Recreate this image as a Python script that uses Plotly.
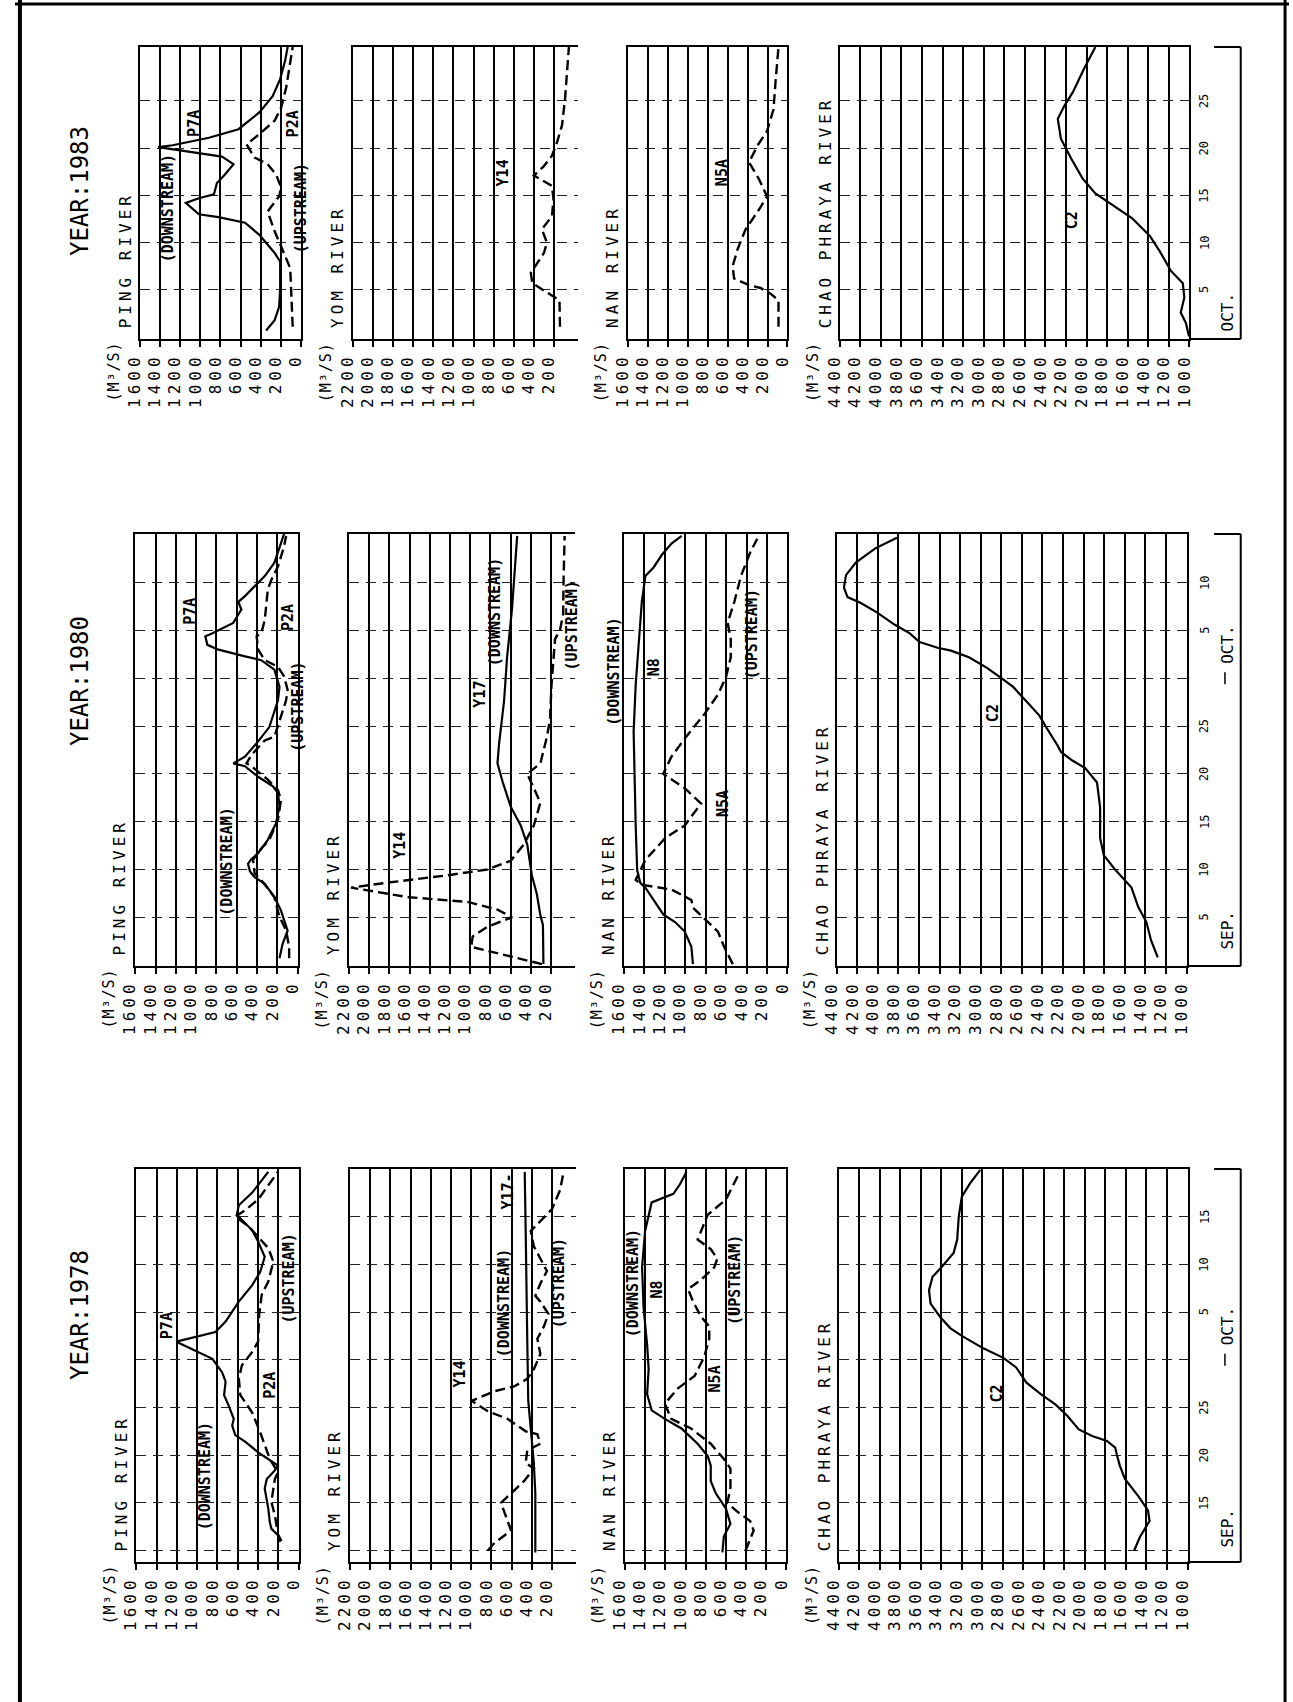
import plotly.graph_objects as go

W, H = 1293, 1702
FONT = "DejaVu Sans Mono"

# ---------------- DATA (day: 0 = 31 Aug, 30 = 30 Sep, 35 = 5 Oct) ----------------
YEARS = ["1983", "1980", "1978"]
RIVERS = ["PING RIVER", "YOM RIVER", "NAN RIVER", "CHAO PHRAYA RIVER"]

# ---- 1983 ----
P7A_1983_DAY = [30.7, 31.8, 33.2, 35.1, 38.0, 38.9, 40.8, 42.1, 42.7, 43.0, 44.2, 44.7, 45.1, 46.3, 47.2, 48.3,
                49.1, 49.9, 50.1, 50.3, 51.1, 52.0, 53.8, 55.5, 57.3, 59.3, 60.7]
P7A_1983_Q = [345, 260, 215, 205, 205, 260, 410, 555, 820, 1015, 1145, 1015, 865, 835, 755, 670,
              785, 1310, 1420, 1275, 915, 620, 410, 280, 205, 155, 130]
P2A_1983_DAY = [31.1, 33.7, 37.3, 39.2, 41.2, 43.3, 44.9, 45.8, 47.2, 48.3, 49.0, 50.4, 51.5, 52.9, 54.3, 56.4,
                58.9, 60.7]
P2A_1983_Q = [80, 90, 105, 180, 260, 330, 215, 195, 245, 330, 460, 540, 410, 260, 195, 145, 105, 80]
Y14_1983_DAY = [31.1, 33.9, 34.3, 35.7, 36.8, 38.9, 40.0, 41.4, 42.8, 44.6, 46.0, 47.1, 48.1, 49.2, 50.6, 52.4,
                55.2, 58.8, 60.9]
Y14_1983_Q = [140, 145, 205, 415, 430, 300, 270, 320, 220, 205, 220, 400, 300, 220, 170, 120, 90, 65, 50]
N5A_1983_DAY = [31.1, 33.9, 34.6, 35.2, 35.5, 36.2, 37.5, 39.3, 41.4, 43.5, 44.9, 46.7, 48.5, 50.2, 51.8, 54.1,
                57.0, 60.7]
N5A_1983_Q = [90, 90, 170, 270, 385, 535, 550, 500, 420, 285, 205, 285, 385, 305, 205, 140, 120, 90]
C2_1983_DAY = [30.1, 31.5, 32.6, 34.2, 35.7, 37.0, 39.1, 40.7, 42.6, 44.0, 45.2, 46.8, 48.9, 51.0, 53.1, 54.5,
               55.9, 58.4, 60.7]
C2_1983_Q = [1005, 1035, 1085, 1050, 1065, 1180, 1290, 1385, 1560, 1755, 1915, 2040, 2150, 2250, 2280, 2215,
             2135, 2025, 1915]

# ---- 1980 ----
P7A_1980_DAY = [0.7, 2.2, 3.6, 5.7, 7.1, 8.5, 9.2, 9.8, 10.6, 11.1, 11.7, 13.1, 14.8, 16.6, 18.0, 18.7, 19.7,
                20.8, 21.1, 21.8, 23.4, 24.9, 27.7, 29.1, 30.9, 31.9, 32.3, 33.0, 33.5, 34.4, 34.7, 35.8, 37.2,
                38.0, 38.6, 40.7, 42.1, 44.2, 45.1]
P7A_1980_Q = [180, 150, 100, 165, 230, 325, 425, 470, 490, 455, 390, 295, 215, 180, 195, 245, 390,
              520, 635, 520, 390, 280, 195, 180, 230, 360, 520, 780, 890, 910, 845, 635, 555,
              585, 520, 325, 230, 165, 135]
P2A_1980_DAY = [0.7, 1.9, 3.6, 5.2, 7.1, 8.9, 9.6, 11.0, 12.0, 13.1, 15.2, 17.3, 18.3, 19.4, 20.8, 21.1, 22.0,
                23.5, 23.9, 26.0, 27.7, 28.8, 30.2, 31.2, 31.9, 33.0, 34.4, 34.7, 36.1, 39.3, 40.3, 41.7,
                43.8, 44.9]
P2A_1980_Q = [85, 85, 115, 185, 230, 360, 425, 440, 375, 280, 195, 165, 195, 295, 455, 505, 455,
              325, 230, 165, 115, 100, 135, 195, 325, 390, 405, 360, 325, 295, 260, 195,
              135, 115]
Y17_1980_DAY = [0.1, 4.2, 5.2, 7.4, 9.4, 12.6, 14.6, 16.6, 19.2, 21.1, 23.1, 27.6, 32.2, 37.4, 44.9]
Y17_1980_Q = [275, 280, 305, 340, 390, 435, 500, 600, 680, 730, 715, 665, 635, 585, 535]
Y14_1980_DAY = [0.1, 1.9, 3.0, 4.0, 5.0, 5.8, 6.6, 7.1, 8.1, 8.6, 9.4, 10.0, 10.9, 12.6, 14.6, 17.0, 20.0,
                21.1, 23.9, 25.7, 29.3, 32.2, 34.1, 35.1, 36.7, 40.6, 44.9]
Y14_1980_Q = [290, 990, 975, 830, 585, 730, 1025, 1610, 2180, 1835, 1220, 830, 600, 470, 370, 305, 435,
              305, 240, 210, 195, 175, 160, 110, 80, 75, 65]
N8_1980_DAY = [0.1, 1.9, 3.5, 4.5, 5.3, 6.8, 8.1, 8.6, 9.9, 14.6, 24.4, 29.3, 34.1, 38.0, 40.7, 41.6, 42.9,
               44.1, 44.9]
N8_1980_Q = [925, 940, 1005, 1100, 1215, 1310, 1390, 1440, 1470, 1485, 1505, 1485, 1455, 1425, 1390, 1310,
             1230, 1135, 1035]
N5A_1980_DAY = [0.1, 1.9, 3.5, 4.8, 6.0, 6.8, 7.9, 8.4, 8.9, 11.0, 13.3, 14.6, 16.9, 18.5, 20.0, 21.8, 23.7,
                26.3, 28.3, 30.2, 32.2, 34.1, 35.8, 38.0, 40.7, 43.3, 44.6]
N5A_1980_Q = [535, 620, 680, 810, 925, 940, 1135, 1425, 1485, 1390, 1195, 1005, 845, 1005, 1215, 1135, 1005,
              810, 680, 600, 555, 555, 585, 520, 455, 360, 295]
C2_1980_DAY = [0.8, 2.6, 4.5, 6.1, 8.1, 9.1, 10.0, 11.5, 13.3, 16.5, 19.1, 20.6, 21.4, 22.3, 23.0, 24.9, 26.1,
               27.8, 29.1, 30.1, 31.1, 32.2, 32.9, 33.2, 33.8, 34.7, 35.6, 36.9, 37.9, 38.5, 39.5, 40.8,
               42.1, 43.6, 44.7]
C2_1980_Q = [1280, 1345, 1390, 1470, 1535, 1615, 1695, 1805, 1840, 1840, 1870, 1985, 2110, 2220, 2255, 2365,
             2430, 2575, 2685, 2810, 2940, 3115, 3290, 3420, 3595, 3690, 3835, 4010, 4170, 4295, 4330,
             4310, 4215, 4025, 3815]

# ---- 1978 ----
P7A_1978_DAY = [10.9, 11.6, 12.3, 13.0, 14.4, 16.5, 17.5, 18.4, 18.9, 19.6, 20.3, 21.4, 22.1, 23.1, 23.8, 25.2,
                26.3, 27.7, 28.7, 30.1, 31.9, 32.9, 34.0, 36.1, 37.8, 39.2, 40.8, 42.4, 43.6, 45.2, 46.2,
                47.5, 49.7]
P7A_1978_Q = [185, 205, 270, 285, 300, 335, 315, 235, 205, 300, 400, 525, 625, 655, 640, 690,
              735, 720, 755, 850, 1205, 820, 720, 590, 460, 380, 335, 400, 460, 610, 590,
              460, 300]
P2A_1978_DAY = [11.0, 11.7, 13.7, 15.1, 17.5, 18.2, 19.6, 22.4, 24.5, 26.3, 28.0, 29.4, 30.8, 31.9, 34.7, 36.8,
                38.2, 40.3, 41.7, 42.9, 44.0, 45.0, 45.7, 46.8, 48.7, 49.7]
P2A_1978_Q = [170, 205, 235, 270, 235, 205, 285, 380, 460, 575, 590, 560, 460, 400, 390, 365,
              300, 250, 300, 400, 495, 625, 525, 400, 270, 205]
Y17_1978_DAY = [9.8, 16.0, 19.2, 22.5, 25.7, 32.2, 38.7, 43.2, 49.7]
Y17_1978_Q = [365, 365, 380, 410, 435, 445, 450, 460, 470]
Y14_1978_DAY = [10.0, 10.8, 12.1, 15.0, 16.0, 17.3, 18.6, 19.2, 20.5, 21.2, 22.2, 22.5, 23.8, 24.6, 25.7, 26.7,
                27.2, 28.0, 29.0, 30.6, 32.2, 33.5, 34.8, 36.1, 36.7, 38.0, 39.3, 40.6, 41.9, 43.5, 44.5,
                45.8, 47.8, 49.7]
Y14_1978_Q = [835, 770, 605, 705, 605, 475, 380, 460, 445, 315, 345, 460, 640, 835, 995, 770,
              575, 445, 380, 315, 345, 280, 235, 315, 365, 315, 250, 315, 380, 410, 315,
              200, 120, 85]
N8_1978_DAY = [9.8, 11.5, 12.8, 14.4, 16.0, 17.3, 18.9, 19.9, 21.2, 22.8, 23.8, 24.7, 26.4, 29.0, 31.6, 35.4,
               39.7, 43.5, 46.5, 47.4, 48.4, 49.7]
N8_1978_Q = [635, 620, 555, 600, 700, 750, 750, 780, 880, 1040, 1205, 1335, 1380, 1365, 1380, 1415,
             1430, 1400, 1335, 1120, 1055, 990]
N5A_1978_DAY = [10.0, 12.1, 13.1, 14.1, 15.0, 16.6, 18.6, 19.6, 21.2, 22.8, 23.8, 25.4, 27.0, 28.3, 30.3, 32.2,
                33.5, 34.5, 36.1, 37.4, 38.4, 39.7, 40.6, 41.6, 42.6, 45.2, 46.8, 49.1, 49.7]
N5A_1978_Q = [405, 325, 360, 490, 585, 555, 555, 620, 750, 945, 1140, 1205, 1075, 910, 815, 765,
              765, 845, 925, 975, 845, 715, 685, 750, 880, 780, 600, 490, 470]
C2_1978_DAY = [10.0, 11.4, 12.3, 13.1, 14.2, 15.7, 17.5, 18.9, 20.1, 20.8, 21.5, 22.0, 22.7, 24.1, 25.3, 26.4,
               27.6, 29.2, 30.2, 31.2, 32.5, 33.3, 34.4, 35.9, 37.3, 38.7, 39.8, 41.2, 42.6, 45.0, 47.1,
               48.5, 49.9]
C2_1978_Q = [1520, 1465, 1415, 1370, 1385, 1480, 1610, 1660, 1690, 1705, 1785, 1930, 2060, 2170, 2285, 2430,
             2570, 2670, 2795, 2990, 3200, 3310, 3405, 3505, 3520, 3485, 3390, 3280, 3245, 3230, 3200,
             3120, 3020]

# ---------------- GEOMETRY ----------------
BAND_TOP = [47, 534, 1169]
BAND_BOT = [339, 966, 1562]
DAY_RANGE = [(29.8, 60.7), (-0.1, 45.1), (8.8, 50.0)]
DAY_GRID = [[35, 40, 45, 50, 55], [5, 10, 15, 20, 25, 30, 35, 40], [10, 15, 20, 25, 30, 35, 40, 45]]
# per column: (max value, lowest labelled value)
COL_VALS = [(1600, 0), (2200, 200), (1600, 0), (4400, 1000)]
# pixel position of (max value, lowest labelled value) per band / column
COL_PX = [
    [(127, 290), (343, 547), (622, 784), (837, 1192)],
    [(122, 287), (339, 544), (618, 784), (834, 1189)],
    [(123, 288), (340, 545), (619, 783), (836, 1190)],
]

CURVES = [
    (0, 0, P7A_1983_DAY, P7A_1983_Q, False), (0, 0, P2A_1983_DAY, P2A_1983_Q, True),
    (0, 1, Y14_1983_DAY, Y14_1983_Q, True), (0, 2, N5A_1983_DAY, N5A_1983_Q, True),
    (0, 3, C2_1983_DAY, C2_1983_Q, False),
    (1, 0, P7A_1980_DAY, P7A_1980_Q, False), (1, 0, P2A_1980_DAY, P2A_1980_Q, True),
    (1, 1, Y17_1980_DAY, Y17_1980_Q, False), (1, 1, Y14_1980_DAY, Y14_1980_Q, True),
    (1, 2, N8_1980_DAY, N8_1980_Q, False), (1, 2, N5A_1980_DAY, N5A_1980_Q, True),
    (1, 3, C2_1980_DAY, C2_1980_Q, False),
    (2, 0, P7A_1978_DAY, P7A_1978_Q, False), (2, 0, P2A_1978_DAY, P2A_1978_Q, True),
    (2, 1, Y17_1978_DAY, Y17_1978_Q, False), (2, 1, Y14_1978_DAY, Y14_1978_Q, True),
    (2, 2, N8_1978_DAY, N8_1978_Q, False), (2, 2, N5A_1978_DAY, N5A_1978_Q, True),
    (2, 3, C2_1978_DAY, C2_1978_Q, False),
]

# curve labels: (band, text, x px, day)
CURVE_LABELS = [
    (0, "(DOWNSTREAM)", 155, 43.6), (0, "P7A", 181, 52.6), (0, "P2A", 282, 52.6), (0, "(UPSTREAM)", 290, 43.6),
    (0, "Y14", 495, 47.4), (0, "N5A", 717, 47.4), (0, "C2", 1073, 42.4),
    (1, "(DOWNSTREAM)", 215, 10.8), (1, "P7A", 178, 37.0), (1, "P2A", 277, 36.4), (1, "(UPSTREAM)", 287, 27.0),
    (1, "Y14", 390, 12.5), (1, "Y17", 472, 28.3), (1, "(DOWNSTREAM)", 488, 36.9), (1, "(UPSTREAM)", 565, 35.5),
    (1, "(DOWNSTREAM)", 608, 30.7), (1, "N8", 648, 31.2), (1, "N5A", 718, 16.9), (1, "(UPSTREAM)", 748, 34.6),
    (1, "C2", 992, 26.4),
    (2, "(DOWNSTREAM)", 193, 17.8), (2, "P7A", 155, 33.6), (2, "P2A", 258, 27.3), (2, "(UPSTREAM)", 278, 38.5),
    (2, "Y14", 452, 28.5), (2, "(DOWNSTREAM)", 497, 35.9), (2, "Y17-", 500, 47.6), (2, "(UPSTREAM)", 553, 38.0),
    (2, "(DOWNSTREAM)", 628, 38.0), (2, "N8", 652, 37.4), (2, "N5A", 710, 28.0), (2, "(UPSTREAM)", 730, 38.4),
    (2, "C2", 997, 26.5),
]

DATE_LABELS = [
    [(35, "5"), (40, "10"), (45, "15"), (50, "20"), (55, "25")],
    [(5, "5"), (10, "10"), (15, "15"), (20, "20"), (25, "25"), (35, "5"), (40, "10")],
    [(15, "15"), (20, "20"), (25, "25"), (35, "5"), (40, "10"), (45, "15")],
]
MONTH_LABELS = [
    [(32.7, "OCT.")],
    [(3.7, "SEP."), (33.6, "OCT.")],
    [(12.4, "SEP."), (33.6, "OCT.")],
]
YEAR_Y = [191, 681, 1315]


def day_px(b, d):
    d0, d1 = DAY_RANGE[b]
    return BAND_TOP[b] + (d1 - d) / (d1 - d0) * (BAND_BOT[b] - BAND_TOP[b])


def spaced(t, s):
    return f'<span style="letter-spacing:{s}px">{t}</span>' if s else t


fig = go.Figure()
annotations = []
shapes = []


def ann(text, x, y, size=16, spacing=0, bold=False, angle=-90):
    t = spaced(text, spacing)
    if bold:
        t = "<b>" + t + "</b>"
    annotations.append(dict(text=t, x=x / W, y=1 - y / H, xref="paper", yref="paper", showarrow=False,
                            textangle=angle, xanchor="center", yanchor="middle",
                            font=dict(family=FONT, size=size, color="black")))


def line(x0, y0, x1, y1, w=2):
    shapes.append(dict(type="line", xref="paper", yref="paper", x0=x0 / W, x1=x1 / W,
                       y0=1 - y0 / H, y1=1 - y1 / H, line=dict(color="black", width=w)))


layout_axes = {}
for b in range(3):
    for c in range(4):
        k = b * 4 + c + 1
        vmax, vlow = COL_VALS[c]
        pl, pr = COL_PX[b][c]
        per_px = (vmax - vlow) / (pr - pl)
        if c == 1:
            pr_edge = pr + 24
        else:
            pr_edge = pr
        vright = vlow - (pr_edge - pr) * per_px
        tickvals = list(range(vmax, vlow - 1, -200))
        xa = dict(domain=[pl / W, pr_edge / W], range=[vmax, vright], anchor=f"y{k}",
                  tickmode="array", tickvals=tickvals, ticktext=[spaced(str(v), 4) for v in tickvals],
                  tickangle=-90, ticks="outside", ticklen=6, tickwidth=2, tickcolor="black",
                  ticklabelshift=5,
                  tickfont=dict(family=FONT, size=16, color="black"),
                  showgrid=True, gridcolor="black", gridwidth=2, zeroline=False,
                  showline=True, linecolor="black", linewidth=2, mirror=True, fixedrange=True)
        d0, d1 = DAY_RANGE[b]
        ya = dict(domain=[1 - BAND_BOT[b] / H, 1 - BAND_TOP[b] / H], range=[d0, d1], anchor=f"x{k}",
                  tickmode="array", tickvals=DAY_GRID[b], showticklabels=False, ticks="",
                  showgrid=True, gridcolor="#222", gridwidth=1, griddash="10px,7px", zeroline=False,
                  showline=True, linecolor="black", linewidth=2, mirror=(c != 1), fixedrange=True)
        layout_axes["xaxis" if k == 1 else f"xaxis{k}"] = xa
        layout_axes["yaxis" if k == 1 else f"yaxis{k}"] = ya

        # river title and unit label
        title = RIVERS[c]
        ln = len(title) * 13.6
        ann(title, pl - 15, BAND_BOT[b] - 11 - ln / 2, size=16, spacing=4)
        ann("(M³/S)", pl - 27, BAND_BOT[b] + 33, size=15, spacing=1)

for (b, c, days, vals, dashed) in CURVES:
    k = b * 4 + c + 1
    fig.add_trace(go.Scatter(x=vals, y=days, mode="lines",
                             xaxis="x" if k == 1 else f"x{k}", yaxis="y" if k == 1 else f"y{k}",
                             line=dict(color="black", width=2.2 if not dashed else 2.4,
                                       dash="10px,5px" if dashed else "solid"),
                             showlegend=False, hoverinfo="skip"))

for (b, text, xp, d) in CURVE_LABELS:
    ann(text, xp, day_px(b, d), size=15, bold=True)

for b in range(3):
    ann("YEAR:" + YEARS[b], 66, YEAR_Y[b], size=24)
    for d, t in DATE_LABELS[b]:
        ann(t, 1207, day_px(b, d), size=12)
    for d, t in MONTH_LABELS[b]:
        ann(t, 1231, day_px(b, d), size=16)
    # bracket around date scale
    pr = COL_PX[b][3][1]
    line(pr, BAND_BOT[b], 1244, BAND_BOT[b])
    line(1244, BAND_TOP[b], 1244, BAND_BOT[b])
    line(1217, BAND_TOP[b], 1244, BAND_TOP[b])
    if DAY_RANGE[b][0] < 29:
        yb = day_px(b, 30)
        line(1228, yb - 6, 1228, yb + 6, 1.5)

# page frame
line(5, 0, 5, H, 4)
line(1289, 0, 1289, H, 3)
line(0, 4, W, 4, 3)

fig.update_layout(width=W, height=H, autosize=False, margin=dict(l=0, r=0, t=0, b=0, pad=0),
                  paper_bgcolor="white", plot_bgcolor="white", showlegend=False,
                  annotations=annotations, shapes=shapes, **layout_axes)
fig.write_html("out.html")
